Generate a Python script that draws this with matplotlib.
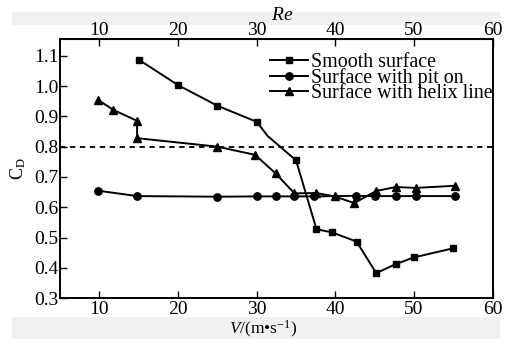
import matplotlib
matplotlib.use("Agg")
import matplotlib.pyplot as plt
from matplotlib.lines import Line2D
from matplotlib.patches import Rectangle

# ---- data ----
v_smooth = [15, 20, 25, 30, 31.4, 35, 37.6, 39.6, 42.7, 45.2, 47.7, 50.0, 55.0]
cd_smooth = [1.087, 1.003, 0.935, 0.882, 0.835, 0.755, 0.528, 0.517, 0.487, 0.383, 0.413, 0.435, 0.465]
smooth_marked = [0, 1, 2, 3, 5, 6, 7, 8, 9, 10, 11, 12]

v_pit = [9.8, 14.8, 25.0, 30.1, 32.4, 34.8, 37.3, 42.6, 45.1, 47.7, 50.2, 55.2]
cd_pit = [0.655, 0.637, 0.635, 0.636, 0.636, 0.636, 0.636, 0.638, 0.637, 0.637, 0.637, 0.637]

v_helix = [9.8, 11.8, 14.8, 14.8, 25.0, 29.8, 32.4, 34.8, 37.6, 39.9, 42.4, 45.2, 47.7, 50.2, 55.2]
cd_helix = [0.955, 0.921, 0.885, 0.828, 0.800, 0.773, 0.712, 0.646, 0.647, 0.636, 0.614, 0.654, 0.667, 0.664, 0.671]

ref_line = 0.8
xticks = [10, 20, 30, 40, 50, 60]
yticks = [0.3, 0.4, 0.5, 0.6, 0.7, 0.8, 0.9, 1.0, 1.1]
labels = ["Smooth surface", "Surface with pit on", "Surface with helix line"]

plt.rcParams['font.family'] = ['Liberation Serif', 'DejaVu Serif']
plt.rcParams['mathtext.fontset'] = 'custom'
plt.rcParams['mathtext.rm'] = 'Liberation Serif'
plt.rcParams['mathtext.it'] = 'Liberation Serif:italic'
plt.rcParams['font.size'] = 14

fig = plt.figure(figsize=(5.06, 3.39), dpi=100)
fig.patch.set_facecolor('white')
# light grey page bands of the scan
fig.patches.append(Rectangle((12/506, 1-25/339), 488/506, 13/339, transform=fig.transFigure,
                             facecolor='#f1f1f1', edgecolor='none', zorder=-5))
fig.patches.append(Rectangle((12/506, 0), 488/506, 22/339, transform=fig.transFigure,
                             facecolor='#f1f1f1', edgecolor='none', zorder=-5))

ax = fig.add_axes([60/506, 1-298.3/339, (492.7-60)/506, (298.3-39)/339])
ax.set_facecolor('white')

lw = 1.4
ax.plot(v_smooth, cd_smooth, color='black', lw=lw, marker='s', ms=4.8, markevery=smooth_marked)
ax.plot(v_pit, cd_pit, color='black', lw=lw, marker='o', ms=5.3)
ax.plot(v_helix, cd_helix, color='black', lw=lw, marker='^', ms=5.8)
ax.axhline(ref_line, color='black', lw=1.3, ls=(0, (3, 2.5)))

ax.set_xlim(5, 60)
ax.set_ylim(0.3, 1.155)
ax.set_xticks(xticks)
ax.set_yticks(yticks)
ax.set_yticklabels([f"{t:.1f}" for t in yticks])
ax.tick_params(direction='in', length=5, width=1, labelsize=14)
ax.tick_params(axis='x', pad=2)
ax.tick_params(axis='y', right=False, pad=1)
for s in ax.spines.values():
    s.set_linewidth(1.4)

ax.set_xlabel(r'$\it{V}$/(m•s$^{\mathrm{-1}}$)', fontsize=12.5)
ax.xaxis.set_label_coords(0.47, -0.078)
ax.set_ylabel(r'C$_{\mathrm{D}}$', labelpad=4.5, fontsize=13)

sec = ax.secondary_xaxis('top')
sec.set_xticks(xticks)
sec.tick_params(direction='in', length=5, width=1, pad=0, labelsize=14)
sec.set_xlabel(r'$\it{Re}$', fontsize=14, labelpad=1.5)
sec.xaxis.label.set_x(0.513)

handles = [
    Line2D([], [], color='black', lw=lw, marker='s', ms=4.8),
    Line2D([], [], color='black', lw=lw, marker='o', ms=5.3),
    Line2D([], [], color='black', lw=lw, marker='^', ms=5.8),
]
ax.legend(handles, labels, loc='upper right', frameon=False, handlelength=1.9,
          handletextpad=0.15, labelspacing=-0.22, borderaxespad=0.0,
          bbox_to_anchor=(1.018, 0.975), fontsize=14.4)

fig.savefig('out.png', dpi=100)
